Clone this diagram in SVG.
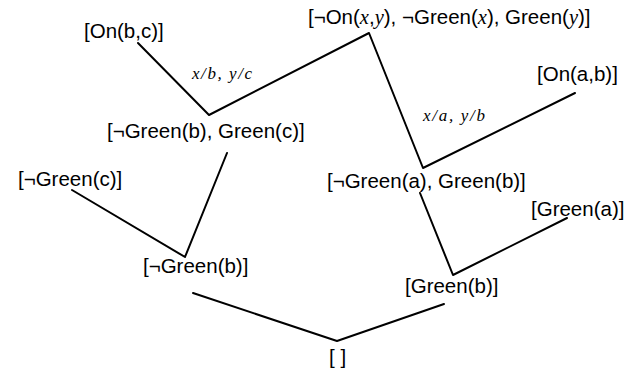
<svg xmlns="http://www.w3.org/2000/svg" width="633" height="372" viewBox="0 0 633 372">
<style>
.n{font-family:"Liberation Sans",Arial,Helvetica,sans-serif;font-size:20.5px;fill:#000}
.m{font-family:"Liberation Serif","Times New Roman",serif;font-style:italic}
.lbl{font-family:"Liberation Serif","Times New Roman",serif;font-style:italic;font-size:17px;fill:#000}
.e{stroke:#000;stroke-width:2;fill:none;stroke-linecap:round;stroke-linejoin:round}
</style>
<rect width="633" height="372" fill="#fff"/>
<g id="connectors">
<polyline class="e" points="138,43 209,115 369,33 423,168 575,93"/>
<polyline class="e" points="72,190 185,257 227,153"/>
<polyline class="e" points="420,193 453,275 567,218"/>
<polyline class="e" points="193,293 337,341 444,304"/>
<text class="lbl" x="192" y="79" textLength="60" lengthAdjust="spacing">x/b, y/c</text>
<text class="lbl" x="423" y="121" textLength="62" lengthAdjust="spacing">x/a, y/b</text>
</g>
<g id="n-onbc"><text class="n" x="84" y="38">[On(b,c)]</text></g>
<g id="n-top"><text class="n" x="308" y="24">[¬On(<tspan class="m">x</tspan>,<tspan class="m">y</tspan>), ¬Green(<tspan class="m">x</tspan>), Green(<tspan class="m">y</tspan>)]</text></g>
<g id="n-ngbgc"><text class="n" x="107" y="138">[¬Green(b), Green(c)]</text></g>
<g id="n-onab"><text class="n" x="537" y="81">[On(a,b)]</text></g>
<g id="n-ngagb"><text class="n" x="327" y="188">[¬Green(a), Green(b)]</text></g>
<g id="n-ngc"><text class="n" x="18" y="186">[¬Green(c)]</text></g>
<g id="n-ngb"><text class="n" x="143" y="273">[¬Green(b)]</text></g>
<g id="n-ga"><text class="n" x="531" y="216">[Green(a)]</text></g>
<g id="n-gb"><text class="n" x="405" y="293">[Green(b)]</text></g>
<g id="n-empty"><text class="n" x="329" y="364">[ ]</text></g>
</svg>
